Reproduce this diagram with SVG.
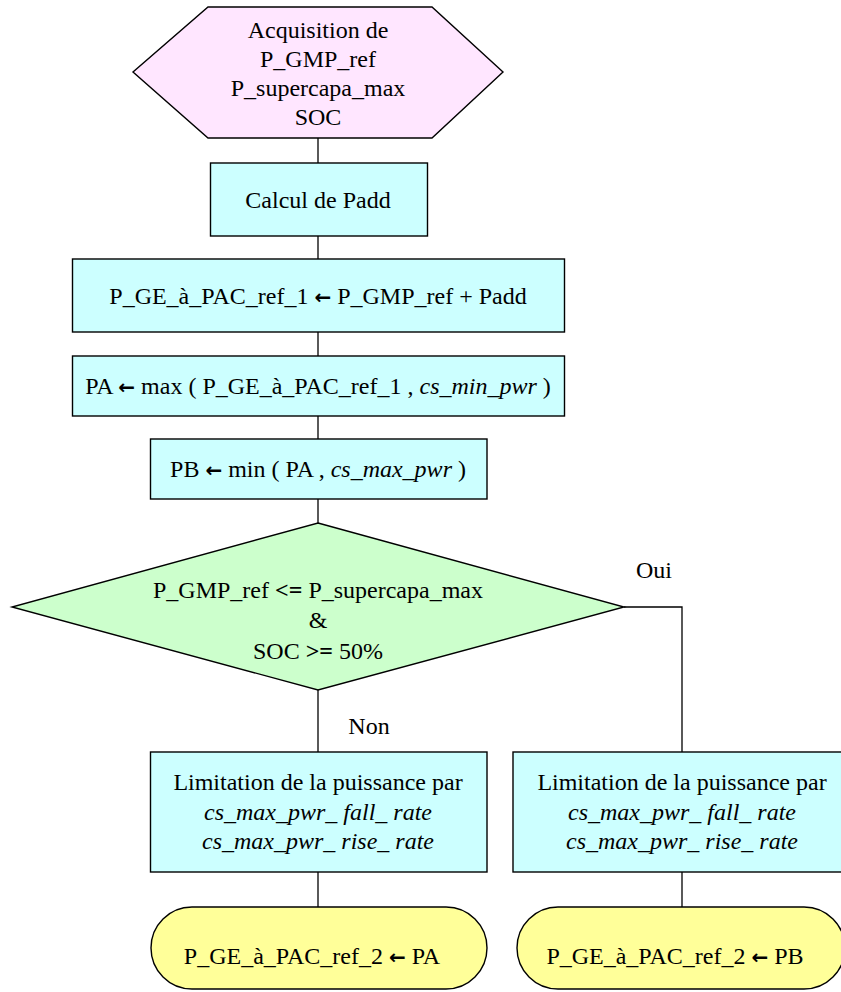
<svg xmlns="http://www.w3.org/2000/svg" width="841" height="992" viewBox="0 0 841 992">
<style>
text{font-family:"Liberation Serif","Times New Roman",serif;font-size:24px;fill:#000;text-anchor:middle}
.it{font-style:italic}
.b{font-weight:bold}
.ar{font-family:"DejaVu Sans",sans-serif;font-weight:bold;font-size:20px}
.sh{stroke:#000;stroke-width:1.4}
.proc{fill:#CCFFFF}
.hex{fill:#FFE6FF}
.dec{fill:#CCFFCC}
.term{fill:#FFFF99}
.ln{fill:none;stroke:#000;stroke-width:1.3}
</style>
<rect width="841" height="992" fill="#fff"/>
<g id="connectors">
<path class="ln" d="M318,138V163"/>
<path class="ln" d="M318,236V259"/>
<path class="ln" d="M318,332V356"/>
<path class="ln" d="M318,416V439"/>
<path class="ln" d="M318,499V523"/>
<path class="ln" d="M318,690V752"/>
<path class="ln" d="M624,607H682V752"/>
<path class="ln" d="M318,872V907"/>
<path class="ln" d="M682,872V907"/>
<text x="654" y="578">Oui</text>
<text x="369" y="734">Non</text>
</g>
<g id="n_acq">
<polygon class="hex sh" points="208,7 432,7 503,72 432,138 208,138 133,72"/>
<text x="318" y="38">Acquisition de</text>
<text x="318" y="67">P_GMP_ref</text>
<text x="318" y="96">P_supercapa_max</text>
<text x="318" y="125">SOC</text>
</g>
<g id="n_padd">
<rect class="proc sh" x="210.5" y="163" width="217" height="73"/>
<text x="318" y="208">Calcul de Padd</text>
</g>
<g id="n_ref1">
<rect class="proc sh" x="72.5" y="259" width="492" height="73"/>
<text x="318" y="304">P_GE_à_PAC_ref_1 <tspan class="ar">←</tspan> P_GMP_ref + Padd</text>
</g>
<g id="n_pa">
<rect class="proc sh" x="72.5" y="356" width="492" height="60"/>
<text x="318" y="394">PA <tspan class="ar">←</tspan> max ( P_GE_à_PAC_ref_1 , <tspan class="it">cs_min_pwr</tspan> )</text>
</g>
<g id="n_pb">
<rect class="proc sh" x="150.5" y="439" width="336.5" height="60"/>
<text x="318" y="477">PB <tspan class="ar">←</tspan> min  ( PA , <tspan class="it">cs_max_pwr</tspan> )</text>
</g>
<g id="n_dec">
<polygon class="dec sh" points="318,523 624,607 318,690 12,607"/>
<text x="318" y="598">P_GMP_ref <tspan class="b">&lt;=</tspan> P_supercapa_max</text>
<text x="318" y="628">&amp;</text>
<text x="318" y="659">SOC <tspan class="b">&gt;=</tspan> 50%</text>
</g>
<g id="n_lim_left">
<rect class="proc sh" x="150.5" y="752" width="336.5" height="120"/>
<text x="318" y="790">Limitation de la puissance par</text>
<text x="318" y="820" class="it">cs_max_pwr_ fall_ rate</text>
<text x="318" y="849" class="it">cs_max_pwr_ rise_ rate</text>
</g>
<g id="n_lim_right">
<rect class="proc sh" x="513" y="752" width="338" height="120"/>
<text x="682" y="790">Limitation de la puissance par</text>
<text x="682" y="820" class="it">cs_max_pwr_ fall_ rate</text>
<text x="682" y="849" class="it">cs_max_pwr_ rise_ rate</text>
</g>
<g id="n_out_pa">
<rect class="term sh" x="151" y="907" width="336" height="82" rx="41" ry="41"/>
<text x="312" y="964">P_GE_à_PAC_ref_2 <tspan class="ar">←</tspan> PA</text>
</g>
<g id="n_out_pb">
<rect class="term sh" x="517" y="907" width="328" height="82" rx="41" ry="41"/>
<text x="675" y="964">P_GE_à_PAC_ref_2 <tspan class="ar">←</tspan> PB</text>
</g>
</svg>
